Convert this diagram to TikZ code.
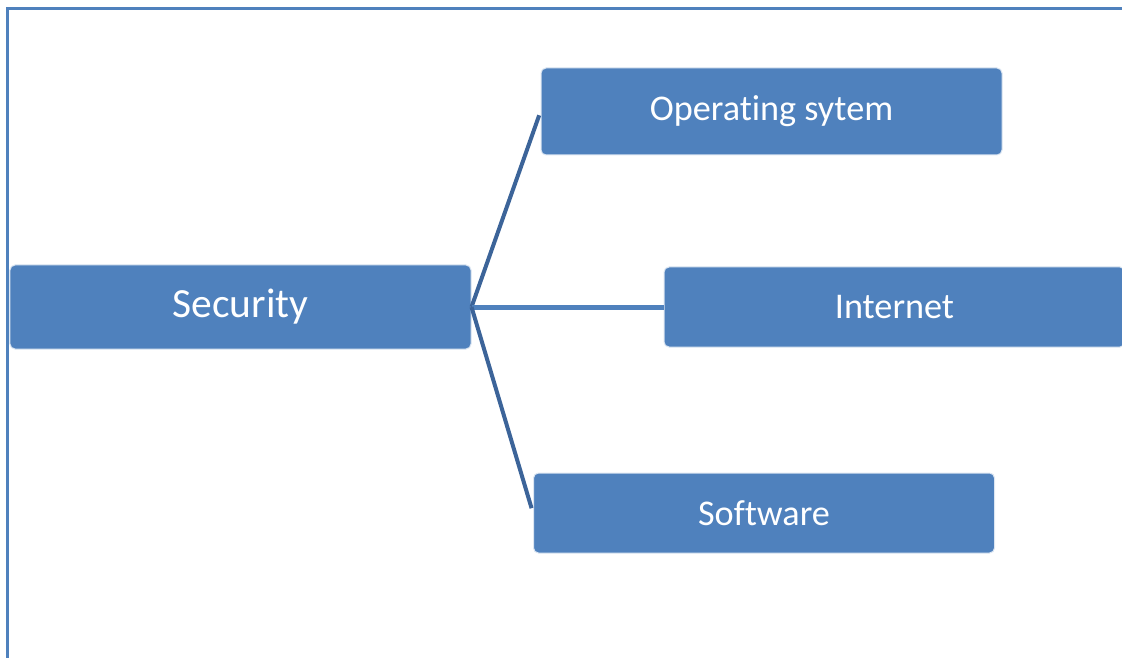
\documentclass[tikz,border=0pt]{standalone}
\usepackage{fontspec}
\setmainfont[Ligatures=NoCommon]{Carlito}
\definecolor{boxblue}{HTML}{4F81BD}
\definecolor{lineblue}{HTML}{3C6499}

\tikzset{
  topic/.style={fill=boxblue,draw=white!80!boxblue,line width=.2mm,rounded corners=1mm,
    text=white,minimum width=92.2mm,minimum height=16.4mm,inner sep=0pt,font=\fontsize{20.6}{24}\selectfont},
  link/.style={line width=.8mm,lineblue}
}

\begin{document}
\begin{tikzpicture}[x=.2mm,y=-.2mm]
\useasboundingbox (0,0) rectangle (1122,658);

% frame
\draw[line width=.6mm,boxblue](7,680) -- (7,9) -- (1140,9);

\node[topic,minimum height=16.8mm,font=\fontsize{23.6}{28}\selectfont] (sec) at (240.5,307) {Security};
\node[topic,minimum height=17.4mm] (os) at (771.5,111.5) {Operating sytem};
\node[topic,minimum height=16mm] (net) at (894.5,307) {Internet};
\node[topic,minimum height=16mm] (soft) at (764,513) {Software};

\draw[link,shorten >=.8mm] (sec.east) -- (os.west);
\draw[link,line width=1mm,boxblue] (sec.east) -- (net.west);
\draw[link,shorten >=1mm] (sec.east) -- (soft.west);
\end{tikzpicture}
\end{document}
